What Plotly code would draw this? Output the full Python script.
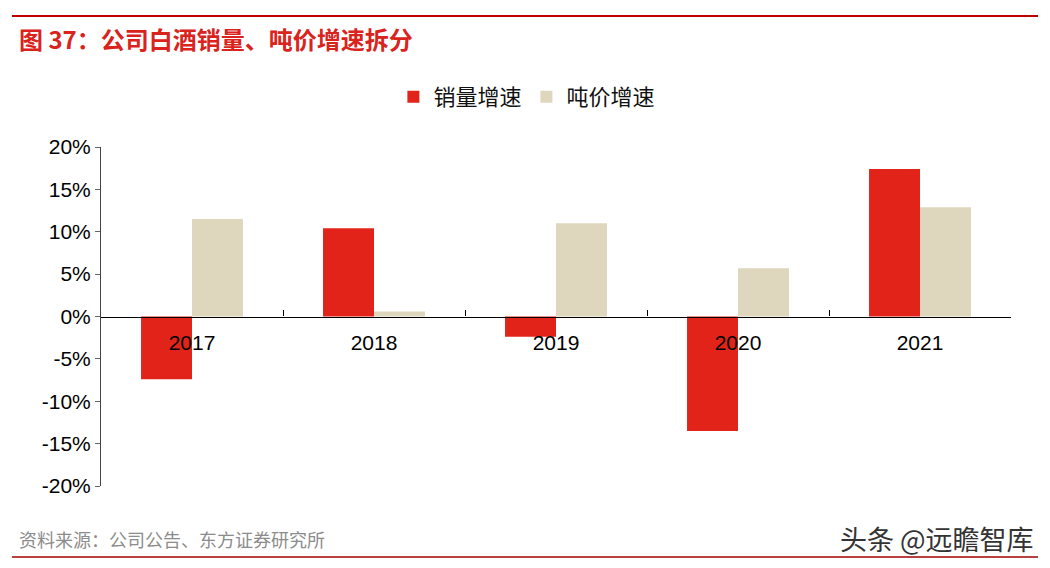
import plotly.graph_objects as go

years = ["2017", "2018", "2019", "2020", "2021"]
volume_growth = [-7.4, 10.4, -2.4, -13.5, 17.4]
price_growth = [11.5, 0.6, 11.0, 5.7, 12.9]
series_names = ["销量增速", "吨价增速"]
y_ticks = [-20, -15, -10, -5, 0, 5, 10, 15, 20]
y_tick_text = [f"{v}%" for v in y_ticks]

RED = "#E2231A"
BEIGE = "#DFD6BE"
FONT = "Liberation Sans, Arial, sans-serif"
CJK = "Noto Sans CJK SC, sans-serif"

L, R, T, B = 101, 39, 147, 82
W, H = 1050, 568
plot_w = W - L - R
plot_h = H - T - B


def px_x(x):
    return (x - L) / plot_w


def px_y(y):
    return (H - B - y) / plot_h


fig = go.Figure()
fig.add_bar(x=years, y=volume_growth, name=series_names[0], marker_color=RED,
            marker_line_width=0)
fig.add_bar(x=years, y=price_growth, name=series_names[1], marker_color=BEIGE,
            marker_line_width=0)

fig.update_layout(
    width=W, height=H,
    paper_bgcolor="white", plot_bgcolor="white",
    margin=dict(l=L, r=R, t=T, b=B),
    barmode="group", bargap=0.44, bargroupgap=0,
    showlegend=True,
    legend=dict(orientation="h", x=0.468, xanchor="center", y=px_y(97), yanchor="middle",
                font=dict(family=CJK, size=22, color="#111"),
                traceorder="normal"),
    font=dict(family=FONT, size=21, color="#000"),
)

fig.update_yaxes(
    range=[-20, 20], tickvals=y_ticks, ticktext=y_tick_text,
    showgrid=False, zeroline=False,
    showline=True, linecolor="#444", linewidth=1,
    ticks="outside", ticklen=5, tickcolor="#666",
    tickfont=dict(family=FONT, size=21, color="#000"),
)
fig.update_xaxes(
    type="category", anchor="free", position=0.5,
    showline=True, linecolor="#000", linewidth=1.3,
    showgrid=False, tickson="boundaries", ticks="inside", ticklen=6,
    tickcolor="#000", ticklabelstandoff=7,
    tickfont=dict(family=FONT, size=21, color="#000"),
)

fig.add_annotation(text="<b>图 37：公司白酒销量、吨价增速拆分</b>", xref="paper", yref="paper",
                   x=px_x(17), y=px_y(38),
                   xanchor="left", yanchor="middle", showarrow=False,
                   font=dict(family=CJK, size=24, color="#D9231C"))
fig.add_annotation(text="资料来源：公司公告、东方证券研究所", xref="paper", yref="paper",
                   x=px_x(17), y=px_y(539),
                   xanchor="left", yanchor="middle", showarrow=False,
                   font=dict(family=CJK, size=18, color="#8c8c8c"))
fig.add_annotation(text="头条 @远瞻智库", xref="paper", yref="paper",
                   x=px_x(1036), y=px_y(538),
                   xanchor="right", yanchor="middle", showarrow=False,
                   font=dict(family=CJK, size=27, color="#333"))

fig.add_shape(type="line", xref="paper", yref="paper",
              x0=px_x(12), x1=px_x(1038), y0=px_y(16), y1=px_y(16),
              line=dict(color="#C00000", width=2))
fig.add_shape(type="line", xref="paper", yref="paper",
              x0=px_x(12), x1=px_x(1038), y0=px_y(557), y1=px_y(557),
              line=dict(color="#A00000", width=1.5))

fig.write_html("out.html", config={"displayModeBar": False},
               post_script="document.body.style.margin='0';")
